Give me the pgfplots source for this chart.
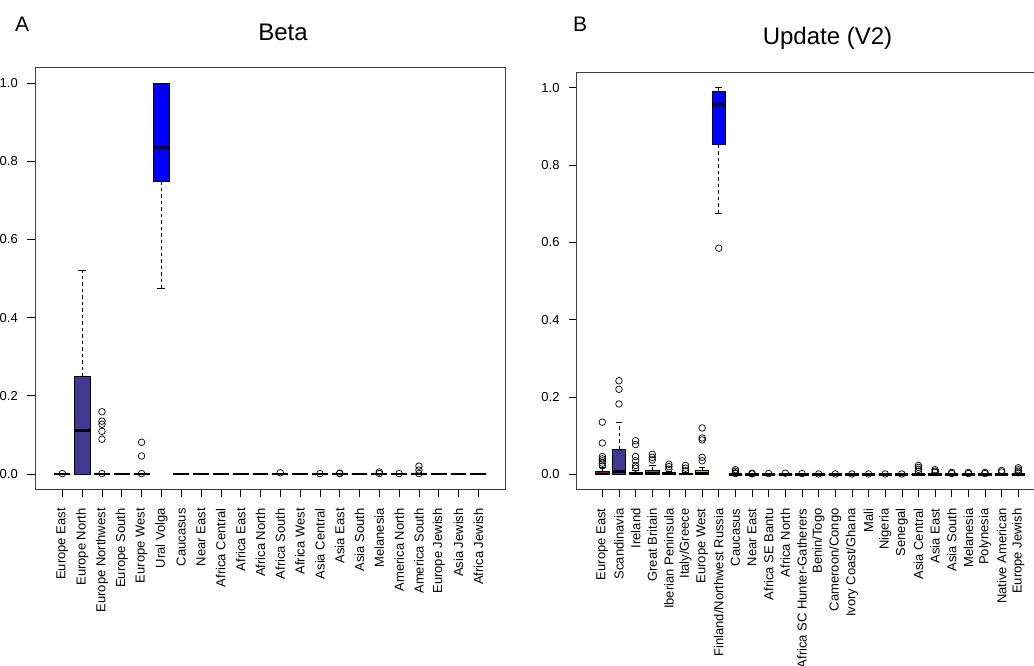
\documentclass[border=0pt]{standalone}
\usepackage{fontspec}
\setmainfont{Liberation Sans}
\usepackage{pgfplots}
\pgfplotsset{compat=1.18}
\usepgfplotslibrary{statistics}
\definecolor{dsb}{RGB}{64,56,145}
\definecolor{rblue}{RGB}{0,0,255}
\definecolor{rred}{RGB}{150,10,30}
\definecolor{rgreen}{RGB}{40,145,60}
\definecolor{ryellow}{RGB}{200,190,20}
\definecolor{rgray}{RGB}{60,60,60}
\pgfplotsset{
  rbox/.style={
    scale only axis,
    ymin=-0.04, ymax=1.04,
    ytick={0,0.2,0.4,0.6,0.8,1.0},
    yticklabel style={/pgf/number format/fixed,/pgf/number format/fixed zerofill,/pgf/number format/precision=1, inner sep=0pt},
    /pgf/number format/assume math mode=true,
    tick align=outside, tick pos=left,
    major tick length=7.5pt,
    tick style={black, line width=0.6pt},
    axis line style={rgray, line width=0.9pt},
    ticklabel style={font=\fontsize{13}{15}\selectfont},
    xticklabel style={rotate=90, anchor=east, inner sep=0pt},
    xticklabel shift=11pt,
    yticklabel shift=9.5pt,
    boxplot/draw direction=y,
    boxplot/draw/lower whisker/.code={%
      \draw[dash pattern=on 3.5pt off 3pt, line width=0.6pt] (boxplot box cs:\pgfplotsboxplotvalue{lower quartile},0.5) -- (boxplot box cs:\pgfplotsboxplotvalue{lower whisker},0.5);
      \draw[solid, line width=0.6pt] (boxplot whisker cs:\pgfplotsboxplotvalue{lower whisker},0) -- (boxplot whisker cs:\pgfplotsboxplotvalue{lower whisker},1);
    },
    boxplot/draw/upper whisker/.code={%
      \draw[dash pattern=on 3.5pt off 3pt, line width=0.6pt] (boxplot box cs:\pgfplotsboxplotvalue{upper quartile},0.5) -- (boxplot box cs:\pgfplotsboxplotvalue{upper whisker},0.5);
      \draw[solid, line width=0.6pt] (boxplot whisker cs:\pgfplotsboxplotvalue{upper whisker},0) -- (boxplot whisker cs:\pgfplotsboxplotvalue{upper whisker},1);
    },
    boxplot/every median/.style={black, line width=2.8pt},
  },
  bp/.style n args={7}{
    black, solid, mark=o, mark size=3.3pt, mark options={black, line width=0.7pt, solid},
    boxplot/every box/.style={draw=black, fill=#7, line width=0.7pt},
    boxplot prepared={draw direction=y, draw position=#1, lower whisker=#2, lower quartile=#3, median=#4, upper quartile=#5, upper whisker=#6, box extend=0.8, whisker extend=0.4},
  },
  bz/.style={bp={#1}{0}{0}{0}{0}{0}{white}},
}
\begin{document}
\begin{tikzpicture}[x=1pt,y=1pt]
% ---------------- Panel A ----------------
\begin{axis}[rbox,
  at={(35pt,175.4pt)}, anchor=south west,
  width=470.7pt, height=422.3pt,
  xmin=-0.38, xmax=23.38,
  xtick={1,...,22},
  xticklabels={Europe East,Europe North,Europe Northwest,Europe South,Europe West,Ural Volga,Caucasus,Near East,Africa Central,Africa East,Africa North,Africa South,Africa West,Asia Central,Asia East,Asia South,Melanesia,America North,America South,Europe Jewish,Asia Jewish,Africa Jewish},
]
\addplot[bz=1] coordinates {(0,0.001)};
\addplot[bp={2}{0}{0}{0.111}{0.249}{0.522}{dsb}] coordinates {};
\addplot[bz=3] coordinates {(0,0.159) (0,0.135) (0,0.127) (0,0.109) (0,0.089) (0,0.001)};
\addplot[bz=4] coordinates {};
\addplot[bz=5] coordinates {(0,0.081) (0,0.046) (0,0.001)};
\addplot[bp={6}{0.474}{0.749}{0.834}{1.0}{1.0}{rblue}] coordinates {};
\addplot[bz=7] coordinates {};
\addplot[bz=8] coordinates {};
\addplot[bz=9] coordinates {};
\addplot[bz=10] coordinates {};
\addplot[bz=11] coordinates {};
\addplot[bz=12] coordinates {(0,0.003)};
\addplot[bz=13] coordinates {};
\addplot[bz=14] coordinates {(0,0.001)};
\addplot[bz=15] coordinates {(0,0.001) (0,0.002)};
\addplot[bz=16] coordinates {};
\addplot[bz=17] coordinates {(0,0.001) (0,0.005)};
\addplot[bz=18] coordinates {(0,0.001)};
\addplot[bz=19] coordinates {(0,0.001) (0,0.01) (0,0.02)};
\addplot[bz=20] coordinates {};
\addplot[bz=21] coordinates {};
\addplot[bz=22] coordinates {};
\end{axis}
% ---------------- Panel B ----------------
\begin{axis}[rbox,
  at={(576.7pt,175.2pt)}, anchor=south west,
  width=467.2pt, height=417.5pt,
  xmin=-0.54, xmax=27.54,
  xtick={1,...,26},
  xticklabels={Europe East,Scandinavia,Ireland,Great Britain,Iberian Peninsula,Italy/Greece,Europe West,Finland/Northwest Russia,Caucasus,Near East,Africa SE Bantu,Africa North,Africa SC Hunter-Gatherers,Benin/Togo,Cameroon/Congo,Ivory Coast/Ghana,Mali,Nigeria,Senegal,Asia Central,Asia East,Asia South,Melanesia,Polynesia,Native American,Europe Jewish},
]
\addplot[bp={1}{0}{0}{0.001}{0.009}{0.018}{rred}] coordinates {(0,0.135) (0,0.081) (0,0.046) (0,0.040) (0,0.035) (0,0.029) (0,0.022)};
\addplot[bp={2}{0}{0}{0.008}{0.065}{0.135}{dsb}] coordinates {(0,0.242) (0,0.22) (0,0.182)};
\addplot[bp={3}{0}{0}{0.001}{0.004}{0.010}{black}] coordinates {(0,0.087) (0,0.077) (0,0.046) (0,0.035) (0,0.023) (0,0.016)};
\addplot[bp={4}{0}{0}{0.002}{0.011}{0.024}{rgreen}] coordinates {(0,0.052) (0,0.044) (0,0.037)};
\addplot[bp={5}{0}{0}{0.001}{0.004}{0.008}{black}] coordinates {(0,0.026) (0,0.020) (0,0.013)};
\addplot[bp={6}{0}{0}{0.001}{0.003}{0.006}{black}] coordinates {(0,0.023) (0,0.016) (0,0.009)};
\addplot[bp={7}{0}{0}{0.002}{0.011}{0.018}{ryellow}] coordinates {(0,0.120) (0,0.094) (0,0.089) (0,0.044) (0,0.035)};
\addplot[bp={8}{0.675}{0.853}{0.957}{0.990}{1.0}{rblue}] coordinates {(0,0.585)};
\addplot[bz=9] coordinates {(0,0.012) (0,0.008) (0,0.004) (0,0.002)};
\addplot[bz=10] coordinates {(0,0.003) (0,0.001)};
\addplot[bz=11] coordinates {(0,0.002)};
\addplot[bz=12] coordinates {(0,0.003)};
\addplot[bz=13] coordinates {(0,0.002)};
\addplot[bz=14] coordinates {(0,0.001)};
\addplot[bz=15] coordinates {(0,0.001)};
\addplot[bz=16] coordinates {(0,0.001)};
\addplot[bz=17] coordinates {(0,0.001)};
\addplot[bz=18] coordinates {(0,0.001)};
\addplot[bz=19] coordinates {(0,0.001)};
\addplot[bp={20}{0}{0}{0}{0.001}{0.003}{black}] coordinates {(0,0.023) (0,0.018) (0,0.013) (0,0.008)};
\addplot[bp={21}{0}{0}{0}{0.001}{0.002}{black}] coordinates {(0,0.012) (0,0.008) (0,0.005)};
\addplot[bz=22] coordinates {(0,0.005) (0,0.002)};
\addplot[bz=23] coordinates {(0,0.005) (0,0.002)};
\addplot[bz=24] coordinates {(0,0.005) (0,0.002)};
\addplot[bz=25] coordinates {(0,0.010) (0,0.006)};
\addplot[bz=26] coordinates {(0,0.017) (0,0.012) (0,0.008) (0,0.004)};
\end{axis}
% titles and panel letters
\node[anchor=base west, inner sep=0pt, font=\fontsize{21}{24}\selectfont] at (15pt,633pt) {A};
\node[anchor=base west, inner sep=0pt, font=\fontsize{21}{24}\selectfont] at (573pt,633pt) {B};
\node[anchor=base, inner sep=0pt, font=\fontsize{24}{28}\selectfont] at (283pt,624.3pt) {Beta};
\node[anchor=base, inner sep=0pt, font=\fontsize{24}{28}\selectfont] at (827.5pt,620pt) {Update (V2)};
\pgfresetboundingbox
\useasboundingbox (0pt,0pt) rectangle (1034pt,665pt);
\end{tikzpicture}
\end{document}
